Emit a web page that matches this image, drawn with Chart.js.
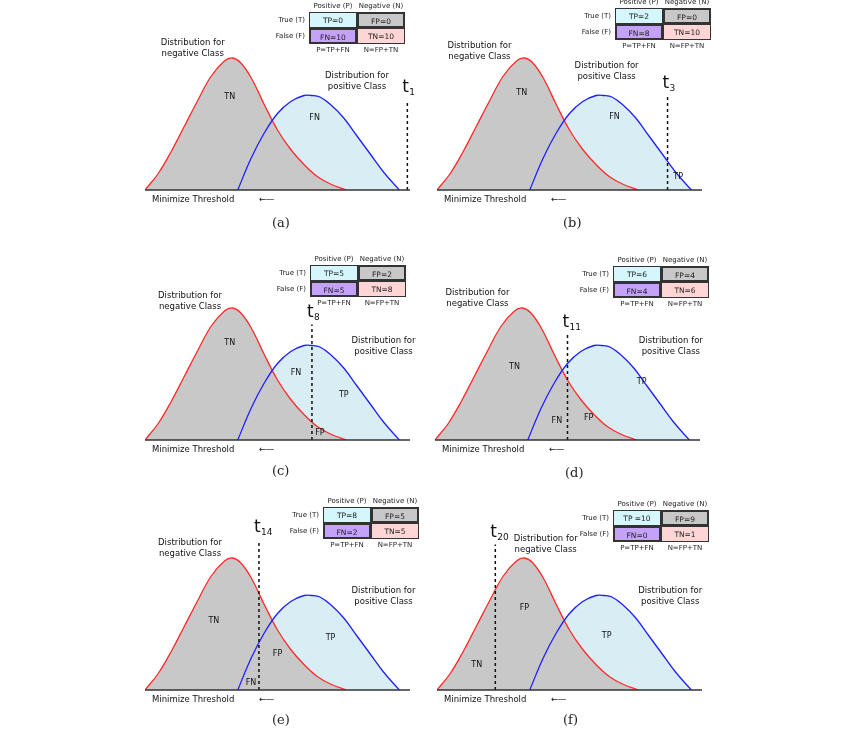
<!DOCTYPE html>
<html>
<head>
<meta charset="utf-8">
<script src="https://cdn.jsdelivr.net/npm/chart.js@4.4.1/dist/chart.umd.min.js"></script>
<style>
  body { margin: 0; background: #fff; width: 850px; height: 737px; position: relative; overflow: hidden;
         font-family: "DejaVu Sans", Verdana, sans-serif; }
  canvas.panel { position: absolute; }
  .cm { position: absolute; font-size: 7px; color: #222; }
  .cm .cell { position: absolute; width: 48px; height: 16px; line-height: 16px; text-align: center;
              border: 1px solid #333; box-sizing: border-box; font-size: 7.5px; }
  .cm .hdr { position: absolute; width: 48px; text-align: center; }
  .cm .rl { position: absolute; width: 40px; text-align: right; }
  .min { position: absolute; font-size: 8.5px; color: #111; }
  .cap { position: absolute; font-family: "DejaVu Serif", "Liberation Serif", serif; font-size: 13px; color: #222; }
</style>
</head>
<body>
<script>
// Curve shapes (x: 0..100 along the axis, y: density)
const negX = [0, 5, 10, 15, 20, 25, 30, 33, 36, 40, 45, 50, 55, 60, 65, 70, 76];
const negY = [0, 0.11, 0.26, 0.43, 0.6, 0.76, 0.86, 0.88, 0.85, 0.75, 0.57, 0.4, 0.27, 0.17, 0.09, 0.04, 0];
const posX = [35, 40, 45, 50, 55, 60, 63, 66, 70, 75, 80, 85, 90, 96];
const posY = [0, 0.21, 0.38, 0.51, 0.59, 0.63, 0.63, 0.62, 0.57, 0.48, 0.36, 0.24, 0.12, 0];

// Per-panel values
const panelNames = ["(a)", "(b)", "(c)", "(d)", "(e)", "(f)"];
const thresholds = [99, 87, 63, 50, 43, 22];
const thresholdIdx = ["1", "3", "8", "11", "14", "20"];
const tpCounts = ["TP=0", "TP=2", "TP=5", "TP=6", "TP=8", "TP =10"];
const fpCounts = ["FP=0", "FP=0", "FP=2", "FP=4", "FP=5", "FP=9"];
const fnCounts = ["FN=10", "FN=8", "FN=5", "FN=4", "FN=2", "FN=0"];
const tnCounts = ["TN=10", "TN=10", "TN=8", "TN=6", "TN=5", "TN=1"];

const C = { tn: "#ffd5d5", fp: "#c8c8c8", fn: "#c3a2f7", tp: "#d8eef4", tpCell: "#d4f6fc", red: "#ff2a2a", blue: "#1f1fff" };

// Layout per panel (pixel origin of axis, label placements in data units)
const layout = [
  { ox: 145, oy: 190, tTop: 0.6, cm: [309, 12], cap: [272, 215],
    neg: [18, 0.94], pos: [80, 0.72], labels: [["TN", 32, 0.62], ["FN", 64, 0.48]] },
  { ox: 437, oy: 190, tTop: 0.63, cm: [615, 8], cap: [563, 215],
    neg: [16, 0.92], pos: [64, 0.79], labels: [["TN", 32, 0.65], ["FN", 67, 0.49], ["TP", 91, 0.09]] },
  { ox: 145, oy: 440, tTop: 0.77, cm: [310, 265], cap: [272, 463],
    neg: [17, 0.92], pos: [90, 0.62], labels: [["TN", 32, 0.65], ["FN", 57, 0.45], ["TP", 75, 0.3], ["FP", 66, 0.05]] },
  { ox: 435, oy: 440, tTop: 0.7, cm: [613, 266], cap: [565, 465],
    neg: [16, 0.94], pos: [89, 0.62], labels: [["TN", 30, 0.49], ["FN", 46, 0.13], ["FP", 58, 0.15], ["TP", 78, 0.39]] },
  { ox: 145, oy: 690, tTop: 1.0, cm: [323, 507], cap: [272, 712],
    neg: [17, 0.94], pos: [90, 0.62], labels: [["TN", 26, 0.46], ["FP", 50, 0.24], ["TP", 70, 0.35], ["FN", 40, 0.05]] },
  { ox: 437, oy: 690, tTop: 0.97, cm: [613, 510], cap: [563, 712],
    neg: [41, 0.97], pos: [88, 0.62], labels: [["TN", 15, 0.17], ["FP", 33, 0.55], ["TP", 64, 0.36]] },
];

const toPts = (xs, ys) => xs.map((x, i) => ({ x, y: ys[i] }));

// Clip a fill dataset to its x-range so one curve can be split at the threshold
const clipPlugin = {
  id: "clipRange",
  beforeDatasetDraw(chart, args) {
    const r = chart.data.datasets[args.index].range;
    if (!r) return;
    const xs = chart.scales.x, a = chart.chartArea, ctx = chart.ctx;
    const x0 = xs.getPixelForValue(r[0]), x1 = xs.getPixelForValue(r[1]);
    ctx.save();
    ctx.beginPath();
    ctx.rect(x0, a.top - 20, x1 - x0, a.bottom - a.top + 21);
    ctx.clip();
  },
  afterDatasetDraw(chart, args) {
    if (chart.data.datasets[args.index].range) chart.ctx.restore();
  },
};

// Axis line, region labels, threshold label and curve captions
const textPlugin = {
  id: "panelText",
  afterDraw(chart) {
    const o = chart.options.plugins.panelText;
    const ctx = chart.ctx, xs = chart.scales.x, ys = chart.scales.y, a = chart.chartArea;
    const px = v => xs.getPixelForValue(v), py = v => ys.getPixelForValue(v);
    ctx.save();
    ctx.strokeStyle = "#333"; ctx.lineWidth = 1.5;
    ctx.beginPath(); ctx.moveTo(a.left, py(0)); ctx.lineTo(a.right, py(0)); ctx.stroke();
    ctx.fillStyle = "#111"; ctx.textAlign = "center"; ctx.textBaseline = "middle";
    ctx.font = '8px "DejaVu Sans"';
    o.labels.forEach(([t, x, y]) => ctx.fillText(t, px(x), py(y)));
    ctx.font = '8.5px "DejaVu Sans"';
    ctx.fillText("Distribution for", px(o.neg[0]), py(o.neg[1]) - 6);
    ctx.fillText("negative Class", px(o.neg[0]), py(o.neg[1]) + 5);
    ctx.fillText("Distribution for", px(o.pos[0]), py(o.pos[1]) - 6);
    ctx.fillText("positive Class", px(o.pos[0]), py(o.pos[1]) + 5);
    // threshold label t with subscript
    const tx = px(o.t), ty = py(o.tTop) - 12;
    ctx.textAlign = "left";
    ctx.font = '17px "DejaVu Sans"';
    ctx.fillText("t", tx - 5, ty);
    ctx.font = '9px "DejaVu Sans"';
    ctx.fillText(o.tIdx, tx + 2, ty + 5);
    ctx.restore();
  },
};

function addCM(i) {
  const [x, y] = layout[i].cm;
  const d = document.createElement("div");
  d.className = "cm"; d.style.left = (x - 44) + "px"; d.style.top = (y - 10) + "px";
  const cell = (l, t, bg, txt, bold) =>
    `<div class="cell" style="left:${l}px;top:${t}px;background:${bg};${bold ? "border-width:2px;" : ""}">${txt}</div>`;
  d.innerHTML =
    `<div class="hdr" style="left:44px;top:0">Positive (P)</div><div class="hdr" style="left:92px;top:0">Negative (N)</div>` +
    `<div class="rl" style="left:0;top:14px">True (T)</div><div class="rl" style="left:0;top:30px">False (F)</div>` +
    cell(44, 10, C.tpCell, tpCounts[i]) + cell(92, 10, C.fp, fpCounts[i], true) +
    cell(44, 26, C.fn, fnCounts[i], true) + cell(92, 26, C.tn, tnCounts[i]) +
    `<div class="hdr" style="left:44px;top:44px">P=TP+FN</div><div class="hdr" style="left:92px;top:44px">N=FP+TN</div>`;
  document.body.appendChild(d);
}

layout.forEach((L, i) => {
  const cv = document.createElement("canvas");
  cv.className = "panel";
  cv.width = 285; cv.height = 200;
  cv.style.left = (L.ox - 10) + "px"; cv.style.top = (L.oy - 190) + "px";
  cv.style.width = "285px"; cv.style.height = "200px";
  document.body.appendChild(cv);

  const t = thresholds[i];
  const neg = toPts(negX, negY), pos = toPts(posX, posY);
  const fill = (data, color, range, order) => ({
    data, range, order, backgroundColor: color, borderWidth: 0, fill: "origin", pointRadius: 0, tension: 0.4,
  });
  new Chart(cv, {
    type: "line",
    data: {
      datasets: [
        fill(neg, C.tn, [0, t], 10),
        fill(pos, C.fn, [0, t], 9),
        fill(pos, C.tp, [t, 100], 8),
        fill(neg, C.fp, [t, 100], 7),
        { data: neg, borderColor: C.red, borderWidth: 1.3, fill: false, pointRadius: 0, tension: 0.4, order: 2 },
        { data: pos, borderColor: C.blue, borderWidth: 1.3, fill: false, pointRadius: 0, tension: 0.4, order: 1 },
        { data: [{ x: t, y: 0 }, { x: t, y: L.tTop }], borderColor: "#111", borderWidth: 1.5, borderDash: [3, 3],
          pointRadius: 0, fill: false, order: 0 },
      ],
    },
    options: {
      responsive: false, animation: false, devicePixelRatio: 1,
      layout: { padding: { left: 10, right: 10, top: 10, bottom: 10 } },
      scales: { x: { type: "linear", min: 0, max: 100, display: false }, y: { min: 0, max: 1.2, display: false } },
      plugins: {
        legend: { display: false }, tooltip: { enabled: false },
        panelText: { labels: L.labels, neg: L.neg, pos: L.pos, t, tTop: L.tTop, tIdx: thresholdIdx[i] },
      },
    },
    plugins: [clipPlugin, textPlugin],
  });

  addCM(i);
  const m = document.createElement("div");
  m.className = "min"; m.style.left = (L.ox + 7) + "px"; m.style.top = (L.oy + 4) + "px";
  m.innerHTML = 'Minimize Threshold &nbsp;&nbsp;&nbsp;&nbsp;&nbsp;&nbsp;&nbsp;&nbsp;&larr;&mdash;';
  document.body.appendChild(m);
  const c = document.createElement("div");
  c.className = "cap"; c.style.left = L.cap[0] + "px"; c.style.top = L.cap[1] + "px";
  c.textContent = panelNames[i];
  document.body.appendChild(c);
});
</script>
</body>
</html>
